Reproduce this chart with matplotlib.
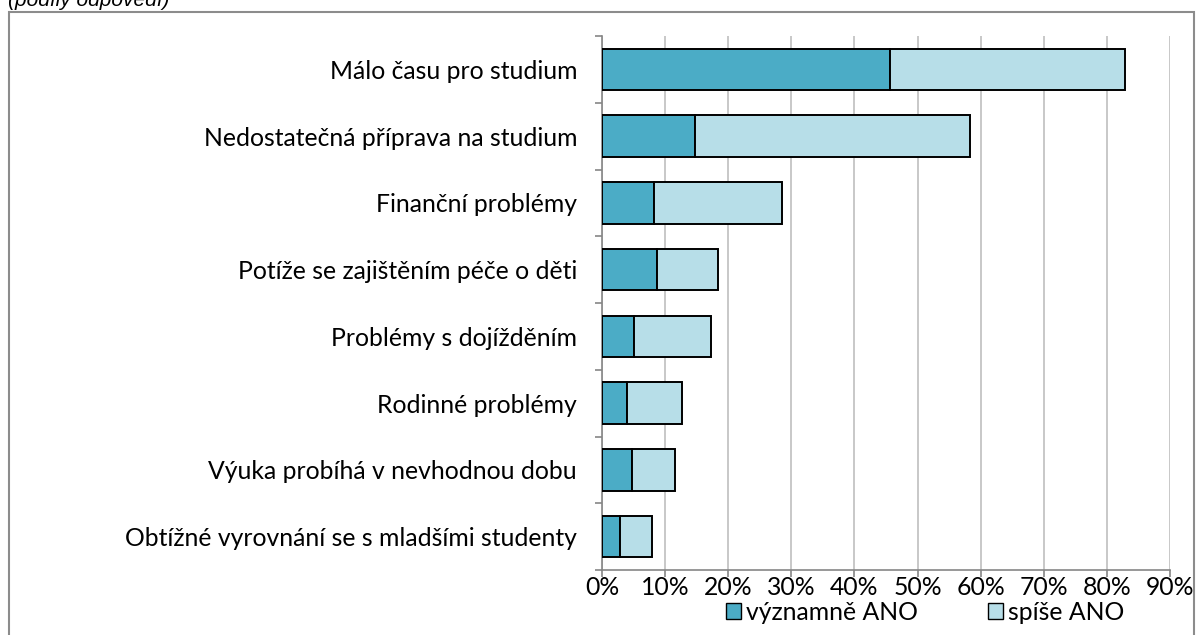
import numpy as np
import matplotlib.pyplot as plt
from matplotlib.patches import Rectangle, Patch

categories = [
    "Málo času pro studium",
    "Nedostatečná příprava na studium",
    "Finanční problémy",
    "Potíže se zajištěním péče o děti",
    "Problémy s dojížděním",
    "Rodinné problémy",
    "Výuka probíhá v nevhodnou dobu",
    "Obtížné vyrovnání se s mladšími studenty",
]
vyznamne = [45.6, 14.8, 8.2, 8.7, 5.1, 3.9, 4.8, 2.8]
spise = [37.3, 43.5, 20.3, 9.7, 12.2, 8.8, 6.7, 5.2]
ticks = [0, 10, 20, 30, 40, 50, 60, 70, 80, 90]

dark = "#4BACC6"
light = "#B7DEE8"
grid_c = "#BFBFBF"
axis_c = "#868686"

plt.rcParams['font.family'] = ['Lato', 'DejaVu Sans']
fs = 17.8

fig = plt.figure(figsize=(11.97, 6.35), dpi=100)
ax = fig.add_axes([602 / 1197, 1 - 570 / 635, (1170 - 602) / 1197, (570 - 36) / 635])

y = np.arange(len(categories))
ax.barh(y, vyznamne, height=0.62, color=dark, edgecolor="black", linewidth=1.4,
        label="významně ANO", zorder=3)
ax.barh(y, spise, left=vyznamne, height=0.62, color=light, edgecolor="black",
        linewidth=1.4, label="spíše ANO", zorder=3)

ax.set_xlim(0, 90)
ax.set_ylim(len(categories) - 0.5, -0.5)
ax.set_xticks(ticks)
ax.set_xticklabels([f"{t}%" for t in ticks], fontsize=fs)
ax.set_yticks(y)
ax.set_yticklabels(categories, fontsize=fs)
ax.set_yticks(np.arange(len(categories) + 1) - 0.5, minor=True)
ax.tick_params(axis="y", which="major", length=0, pad=18)
ax.tick_params(axis="y", which="minor", length=5, color=axis_c, width=1.2)
ax.tick_params(axis="x", length=5, color=axis_c, width=1.2, pad=-1)

ax.grid(axis="x", color=grid_c, linewidth=1.2, zorder=0)
for s in ["top", "right"]:
    ax.spines[s].set_visible(False)
for s in ["left", "bottom"]:
    ax.spines[s].set_color(axis_c)
    ax.spines[s].set_linewidth(1.2)

fig.legend(handles=[Patch(facecolor=dark, edgecolor="black", label="významně ANO"),
                    Patch(facecolor=light, edgecolor="black", label="spíše ANO")],
           loc="center", bbox_to_anchor=(925 / 1197, 1 - 612 / 635), ncol=2, frameon=False,
           fontsize=fs, handlelength=0.6, handleheight=0.6, handletextpad=0.2,
           columnspacing=2.85)

# chart frame
fig.patches.append(Rectangle((9 / 1197, -0.05), 1185 / 1197, 1 - 12 / 635 + 0.05,
                             transform=fig.transFigure, fill=False,
                             edgecolor="#8C8C8C", linewidth=1.5))
fig.text(8 / 1197, 1 - 1 / 635, "(podíly odpovědí)", fontsize=15, style="italic",
         family="Liberation Sans", va="center", ha="left")

fig.savefig("out.png", dpi=100)
